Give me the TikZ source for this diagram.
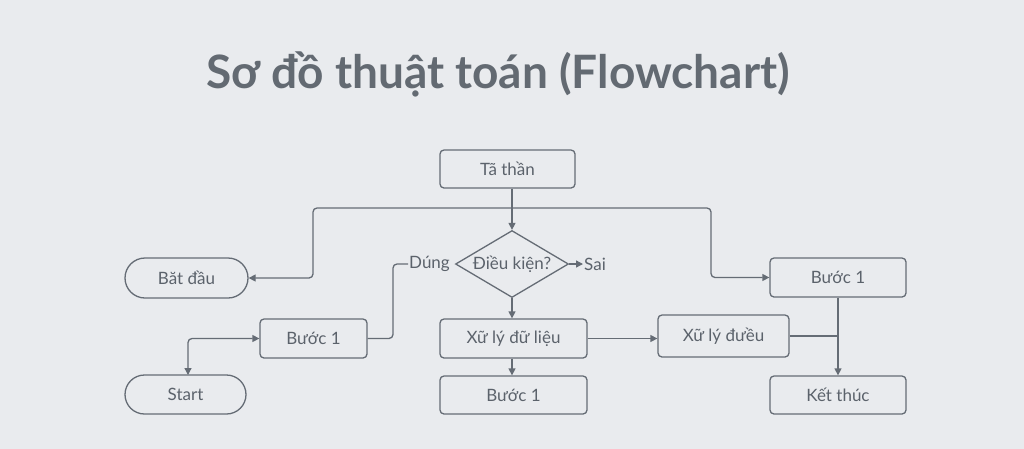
\documentclass[tikz,border=0pt]{standalone}
\usepackage{fontspec}
\setmainfont{Lato}
\usetikzlibrary{shapes.geometric,shapes.misc,arrows.meta}
\definecolor{bg}{HTML}{E9EBEE}
\definecolor{ln}{HTML}{656C75}
\definecolor{tx}{HTML}{5B626B}
\tikzset{
  box/.style={draw=ln, line width=1.3pt, rounded corners=4pt, text=tx, font=\fontsize{17}{20}\selectfont, inner sep=0pt, anchor=center},
  pill/.style={draw=ln, line width=1.3pt, rounded rectangle, text=tx, font=\fontsize{17}{20}\selectfont, inner sep=0pt},
  lbl/.style={text=tx, font=\fontsize{17}{20}\selectfont, inner sep=1pt},
  conn/.style={draw=ln, line width=1.3pt, rounded corners=4pt},
  arr/.style={conn, -{Triangle[length=7pt,width=7pt]}},
}
\begin{document}
\begin{tikzpicture}[x=1pt,y=-1pt]
\useasboundingbox (0,0) rectangle (1024,448);
\fill[bg] (-2,-2) rectangle (1026,450);
\node[text=tx!95!white, font=\bfseries\fontsize{46}{52}\selectfont] (title) at (498,74) {Sơ đồ thuật toán (Flowchart)};
\node[box, minimum width=135pt, minimum height=38pt] (tt) at (507.5,169) {Tã thần};
\node[diamond, draw=ln, line width=1.3pt, inner sep=0pt, minimum width=113pt, minimum height=67pt,
      label={[lbl]center:Điều kiện?}] (dk) at (512,264) {};
\node[pill, minimum width=123pt, minimum height=40pt] (bd) at (186.5,278) {Băt đầu};
\node[box, minimum width=136pt, minimum height=39pt] (b1r) at (838,277.5) {Bước 1};
\node[box, minimum width=107pt, minimum height=39pt] (b1l) at (313.5,338.5) {Bước 1};
\node[box, minimum width=147pt, minimum height=39pt] (xl) at (513.5,338.5) {Xữ lý đữ liệu};
\node[box, minimum width=131pt, minimum height=42pt] (xd) at (723.5,336) {\raisebox{2pt}{Xữ lý đưều}};
\node[pill, minimum width=121pt, minimum height=39pt] (st) at (185.5,394.5) {Start};
\node[box, minimum width=147pt, minimum height=38pt] (b1b) at (513.5,395) {Bước 1};
\node[box, minimum width=136pt, minimum height=38pt] (kt) at (838,395) {Kết thúc};
\node[lbl, anchor=east] (dung) at (451,264) {Dúng};
\node[lbl, anchor=west] (sai) at (583,264) {Sai};
\coordinate (j) at (512,208);
\coordinate (jk) at (838,336);
% connectors
\draw[arr] (j |- tt.south) -- (dk.north);
\draw[arr] (j) -- (313,208) -- (313,278) -- (bd.east);
\draw[arr] (j) -- (711,208) -- (711,277.5) -- (b1r.west);
\draw[arr] (dk.east) -- (sai.west);
\draw[conn] (dung.west) -- (393,264) -- (393,338.5) -- (b1l.east);
\draw[conn, {Triangle[length=7pt,width=7pt]}-{Triangle[length=7pt,width=7pt]}] (b1l.west) -- (188,338.5) -- (188,375);
\draw[arr] (dk.south) -- (xl.north -| dk.south);
\draw[arr] (xl.south -| dk.south) -- (b1b.north -| dk.south);
\draw[arr] (xl.east) -- (xd.west |- xl.east);
\draw[arr] (b1r.south) -- (kt.north);
\draw[conn] (xd.east |- jk) -- (jk);
\end{tikzpicture}
\end{document}
